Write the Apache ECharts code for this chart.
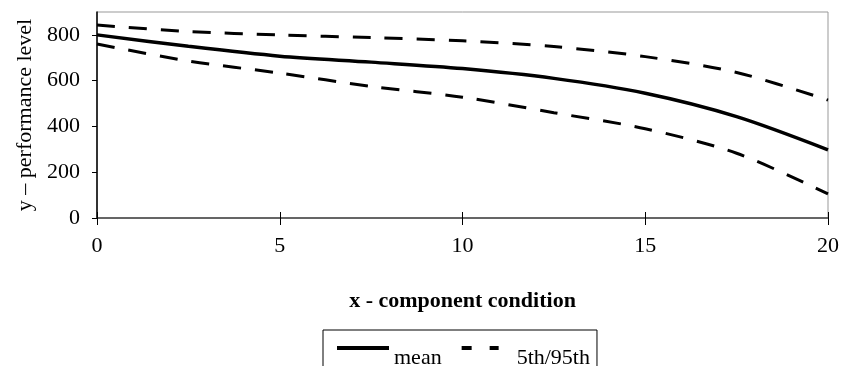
<!DOCTYPE html>
<html><head><meta charset="utf-8">
<script src="https://cdn.jsdelivr.net/npm/echarts@6/dist/echarts.min.js"></script>
<style>html,body{margin:0;padding:0;background:#fff}#c{width:844px;height:366px}</style>
</head><body><div id="c"></div>
<script>
const xValues = [0, 2.5, 5, 7.5, 10, 12.5, 15, 17.5, 20];
const meanValues = [800, 750, 707, 681, 653, 610, 545, 443, 298];
const upperValues = [843, 815, 800, 788, 774, 749, 705, 636, 515];
const lowerValues = [760, 686, 633, 575, 528, 460, 390, 283, 105];
const xTicks = [0, 5, 10, 15, 20];
const yTicks = [0, 200, 400, 600, 800];

const pair = (ys) => xValues.map((x, i) => [x, ys[i]]);
const font = '"Liberation Serif", "Times New Roman", serif';
const corners = 'M0,0h0.05v0.05h-0.05z M51.95,3.95h0.05v0.05h-0.05z ';
const chart = echarts.init(document.getElementById('c'));
chart.setOption({
  animation: false,
  textStyle: { fontFamily: font },
  grid: { left: 97, right: 16, top: 12, bottom: 148, show: true, borderColor: '#999', borderWidth: 1,
    containLabel: false, outerBoundsMode: 'none' },
  legend: {
    top: 330, left: 323,
    data: [
      { name: 'mean', icon: 'path://' + corners + 'M0,0h52v4h-52z' },
      { name: '5th/95th', icon: 'path://' + corners + 'M2,0h10v4h-10z M30,0h9v4h-9z' }
    ],
    borderColor: '#000', borderWidth: 1,
    padding: [16, 7, 30, 14],
    itemWidth: 52, itemHeight: 4, itemGap: 18,
    itemStyle: { color: '#000' },
    formatter: '{a|{name}}',
    textStyle: { fontFamily: font, fontSize: 22, color: '#000',
      rich: { a: { fontFamily: font, fontSize: 22, color: '#000', padding: [20, 0, 0, 0] } } }
  },
  xAxis: [{
    type: 'value', min: 0, max: 20, interval: 5,
    name: 'x - component condition', nameLocation: 'middle', nameGap: 72,
    nameTextStyle: { fontFamily: font, fontSize: 22, fontWeight: 'bold', color: '#000' },
    axisLine: { lineStyle: { color: '#444', width: 1.5 } },
    axisTick: { show: true, length: 7, lineStyle: { color: '#000' } },
    axisLabel: { fontFamily: font, fontSize: 22, color: '#000', margin: 17 },
    splitLine: { show: false }
  }, {
    type: 'value', min: 0, max: 20, interval: 5, position: 'bottom',
    axisLine: { show: false },
    axisTick: { show: true, inside: true, length: 6, lineStyle: { color: '#000' } },
    axisLabel: { show: false }, splitLine: { show: false }
  }],
  yAxis: {
    type: 'value', min: 0, max: 900, interval: 200,
    name: 'y \u2013 performance level', nameLocation: 'middle', nameGap: 60, nameRotate: 90,
    nameTextStyle: { fontFamily: font, fontSize: 22, color: '#000' },
    axisLine: { show: true, lineStyle: { color: '#000', width: 1.5 } },
    axisTick: { show: true, length: 5, lineStyle: { color: '#000' }, customValues: yTicks },
    axisLabel: { fontFamily: font, fontSize: 22, color: '#000', margin: 17, customValues: yTicks },
    splitLine: { show: false }
  },
  series: [
    { name: 'mean', type: 'line', data: pair(meanValues), smooth: 0.3, symbol: 'none',
      lineStyle: { color: '#000', width: 3.5, type: 'solid' }, itemStyle: { color: '#000' } },
    { name: '5th/95th', type: 'line', data: pair(upperValues), smooth: 0.3, symbol: 'none',
      lineStyle: { color: '#000', width: 3, type: [18, 14] }, itemStyle: { color: '#000' } },
    { name: '5th/95th', type: 'line', data: pair(lowerValues), smooth: 0.3, symbol: 'none',
      lineStyle: { color: '#000', width: 3, type: [18, 14] }, itemStyle: { color: '#000' } }
  ]
});
</script></body></html>
